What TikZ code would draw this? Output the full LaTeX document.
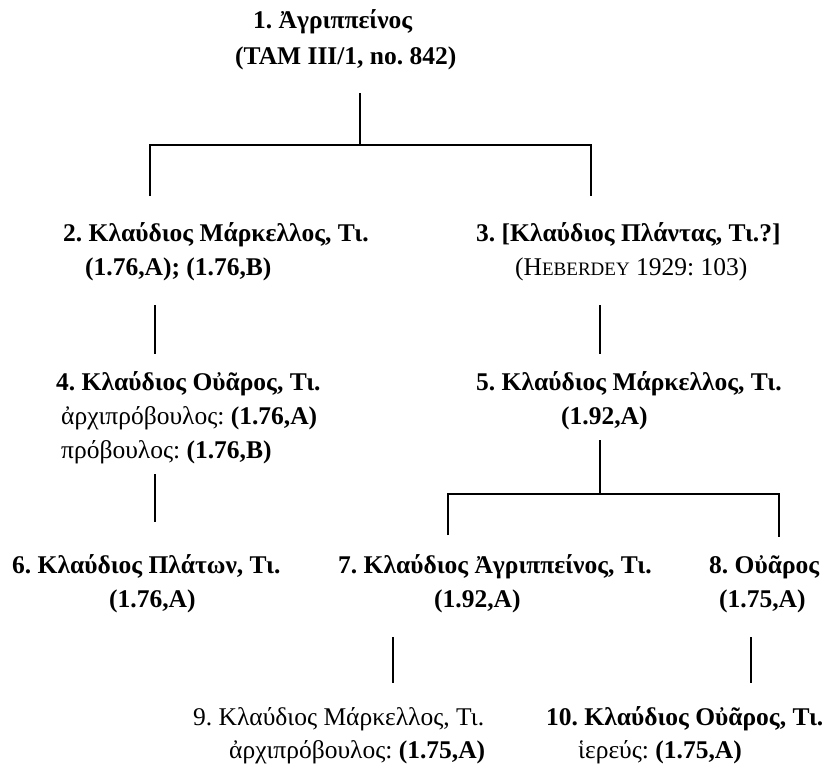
\documentclass[tikz,border=0pt]{standalone}
\usepackage{fontspec}
\setmainfont{Liberation Serif}
\frenchspacing
\newcommand{\smcapsH}[1]{{\fontsize{19}{22}\selectfont #1}}
\tikzset{
  txt/.style={anchor=base west, inner sep=0pt, font=\fontsize{25.5}{30}\selectfont},
  txtb/.style={txt, font=\fontsize{25.5}{30}\selectfont\bfseries},
  link/.style={line width=1.3pt, line cap=butt, line join=miter},
}
\begin{document}
\begin{tikzpicture}[x=1pt, y=-1pt]
\useasboundingbox (0,0) rectangle (830,768);
\fill[white] (0,0) rectangle (830,768);

% generation 1
\node[txtb] (n1a) at (253,29) {1. Ἀγριππείνος};
\node[txtb] (n1b) at (235,64) {(TAM III/1, no. 842)};

% generation 2
\node[txtb] (n2a) at (63,241) {2. Κλαύδιος Μάρκελλος, Τι.};
\node[txtb] (n2b) at (85,275) {(1.76,A); (1.76,B)};
\node[txtb] (n3a) at (476,241) {3. [Κλαύδιος Πλάντας, Τι.?]};
\node[txt]  (n3b) at (515,275) {(H\smcapsH{EBERDEY} 1929: 103)};

% generation 3
\node[txtb] (n4a) at (56,390) {4. Κλαύδιος Οὐᾶρος, Τι.};
\node[txt]  (n4b) at (61,424) {ἀρχιπρόβουλος: \textbf{(1.76,A)}};
\node[txt]  (n4c) at (61,458) {πρόβουλος: \textbf{(1.76,B)}};
\node[txtb] (n5a) at (476,390) {5. Κλαύδιος Μάρκελλος, Τι.};
\node[txtb] (n5b) at (561,424) {(1.92,A)};

% generation 4
\node[txtb] (n6a) at (12,573) {6. Κλαύδιος Πλάτων, Τι.};
\node[txtb] (n6b) at (109,607) {(1.76,A)};
\node[txtb] (n7a) at (338,573) {7. Κλαύδιος Ἀγριππείνος, Τι.};
\node[txtb] (n7b) at (434,607) {(1.92,A)};
\node[txtb] (n8a) at (709,573) {8. Οὐᾶρος};
\node[txtb] (n8b) at (719,607) {(1.75,A)};

% generation 5
\node[txt]  (n9a) at (193,725) {9. Κλαύδιος Μάρκελλος, Τι.};
\node[txt]  (n9b) at (229,758) {ἀρχιπρόβουλος: \textbf{(1.75,A)}};
\node[txtb] (n10a) at (546,725) {10. Κλαύδιος Οὐᾶρος, Τι.};
\node[txt]  (n10b) at (578,758) {ἱερεύς: \textbf{(1.75,A)}};

% connector end points
\coordinate (r1top) at (360,93);
\coordinate (r1bar) at (360,145);
\coordinate (b2top) at (150,145);
\coordinate (b2end) at (150,196);
\coordinate (b3top) at (591,145);
\coordinate (b3end) at (591,196);
\coordinate (d2top) at (155,305);
\coordinate (d2end) at (155,354);
\coordinate (d3top) at (600,305);
\coordinate (d3end) at (600,354);
\coordinate (d4top) at (155,474);
\coordinate (d4end) at (155,522);
\coordinate (r5top) at (600,440);
\coordinate (r5bar) at (600,494);
\coordinate (b7top) at (448,494);
\coordinate (b7end) at (448,535);
\coordinate (b8top) at (779,494);
\coordinate (b8end) at (779,537);
\coordinate (d7top) at (393,637);
\coordinate (d7end) at (393,683);
\coordinate (d8top) at (751,637);
\coordinate (d8end) at (751,683);

% family lines
\draw[link] (r1top) -- (r1bar);
\draw[link] (b2end) -- (b2top) -- (b3top) -- (b3end);
\draw[link] (d2top) -- (d2end);
\draw[link] (d3top) -- (d3end);
\draw[link] (d4top) -- (d4end);
\draw[link] (r5top) -- (r5bar);
\draw[link] (b7end) -- (b7top) -- (b8top) -- (b8end);
\draw[link] (d7top) -- (d7end);
\draw[link] (d8top) -- (d8end);
\end{tikzpicture}
\end{document}
